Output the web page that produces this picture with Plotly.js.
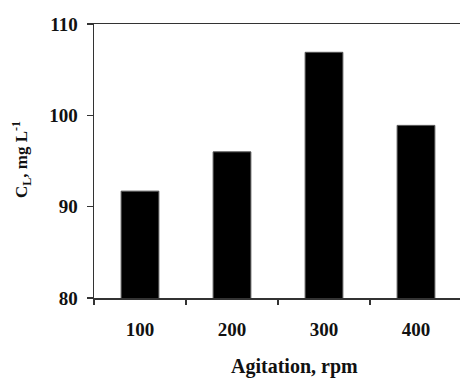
<!DOCTYPE html>
<html>
<head>
<meta charset="utf-8">
<script src="https://cdn.plot.ly/plotly-3.0.1.min.js"></script>
<style>html,body{margin:0;padding:0;overflow:hidden;background:#fff;}#chart{width:464px;height:378px;}</style>
</head>
<body>
<div id="chart"></div>
<script>
var categories = ['100', '200', '300', '400'];
var values = [91.7, 96.0, 106.9, 98.9];
var yTicks = [80, 90, 100, 110];

var font = 'Liberation Serif, Times New Roman, serif';

var trace = {
  type: 'bar',
  x: categories,
  y: values,
  marker: {color: '#000000', line: {color: '#555555', width: 1}},
  hoverinfo: 'none'
};

var layout = {
  width: 464,
  height: 378,
  margin: {l: 94, r: 2, t: 24, b: 80},
  paper_bgcolor: '#ffffff',
  plot_bgcolor: '#ffffff',
  showlegend: false,
  bargap: 0.59,
  font: {family: font, color: '#000000'},
  xaxis: {
    type: 'category',
    tickson: 'boundaries',
    ticks: 'outside',
    ticklen: 5,
    tickwidth: 1.5,
    tickcolor: '#333333',
    showline: true,
    linecolor: '#333333',
    linewidth: 1.5,
    mirror: true,
    showgrid: false,
    zeroline: false,
    ticklabelstandoff: 14,
    tickfont: {family: font, size: 19, color: '#111111', weight: 'bold'}
  },
  yaxis: {
    range: [80, 110],
    tickvals: yTicks,
    ticktext: yTicks.map(String),
    ticks: 'outside',
    ticklen: 6,
    tickwidth: 1.5,
    tickcolor: '#333333',
    showline: true,
    linecolor: '#333333',
    linewidth: 1.5,
    showgrid: false,
    zeroline: false,
    ticklabelstandoff: 5,
    tickfont: {family: font, size: 19, color: '#111111', weight: 'bold'}
  },
  annotations: [
    {
      text: '<b>Agitation, rpm</b>',
      xref: 'paper', yref: 'paper',
      x: (294 - 94) / 368, y: (298 - 366) / 274,
      xanchor: 'center', yanchor: 'middle',
      showarrow: false,
      font: {family: font, size: 20, color: '#111111'}
    },
    {
      text: '<b>C<sub>L</sub>, mg L<sup>-1</sup></b>',
      xref: 'paper', yref: 'paper',
      x: (21 - 94) / 368, y: (298 - 160) / 274,
      xanchor: 'center', yanchor: 'middle',
      textangle: -90,
      showarrow: false,
      font: {family: font, size: 17, color: '#111111'}
    }
  ]
};

Plotly.newPlot('chart', [trace], layout, {displayModeBar: false, staticPlot: true});
</script>
</body>
</html>
